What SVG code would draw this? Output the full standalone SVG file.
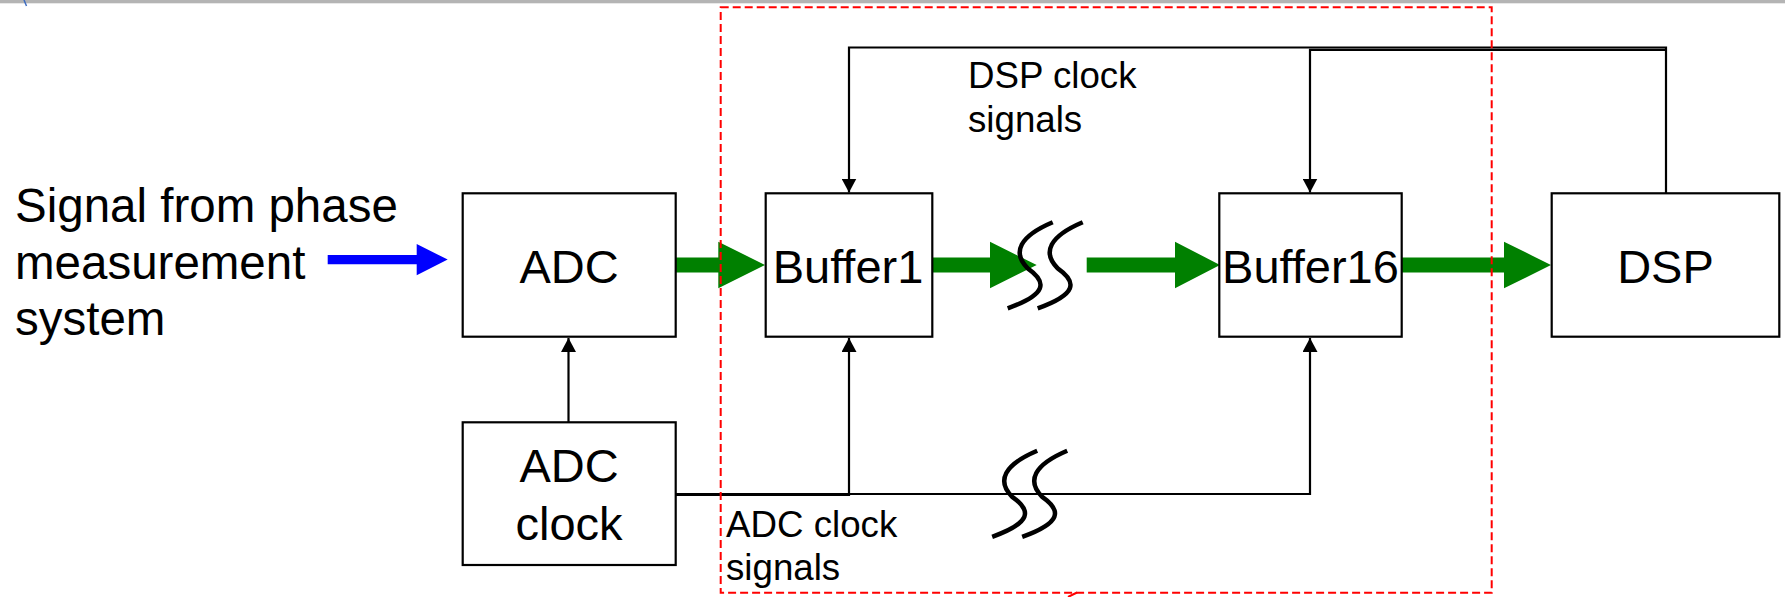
<svg xmlns="http://www.w3.org/2000/svg" width="1785" height="597" viewBox="0 0 1785 597">
  <style>
    .box { fill: #ffffff; stroke: #000000; stroke-width: 2.2; }
    .lbl { font-family: "Liberation Sans", Arial, sans-serif; fill: #000000; }
    .big { font-size: 47px; text-anchor: middle; }
    .sig { font-size: 47.5px; }
    .small { font-size: 36.7px; }
    .wire { fill: none; stroke: #000000; stroke-width: 2.2; }
    .green { fill: #008000; stroke: none; }
    .blue { fill: #0000ff; stroke: none; }
    .brk { fill: none; stroke: #000000; stroke-width: 4.5; }
    .region { fill: none; stroke: #ff0000; stroke-width: 2; stroke-dasharray: 8 4; }
  </style>
  <defs>
    <marker id="ah" viewBox="0 0 14 15" refX="14" refY="7.5" markerWidth="14" markerHeight="15" orient="auto" markerUnits="userSpaceOnUse">
      <path d="M0,0 L14,7.5 L0,15 Z" fill="#000000"/>
    </marker>
    <path id="squig" d="M0,0 C-33,14 -41,30 -25,46 C-5,60 -6,72 -45,86"/>
  </defs>
  <rect width="1785" height="597" fill="#ffffff"/>
  <rect x="0" y="0" width="1785" height="3.3" fill="#b4b4b4"/>
  <path d="M24,0 L26.5,6" stroke="#3d6cc0" stroke-width="1.5" fill="none"/>

  <g id="connectors">
    <!-- input signal -->
    <path class="blue" d="M327.7,255 H416.7 V244 L447.7,259.6 L416.7,275.2 V264.3 H327.7 Z"/>
    <!-- data path green arrows -->
    <path class="green" d="M676,257.5 H718.3 V241.7 L765,265 L718.3,288.3 V272.5 H676 Z"/>
    <path class="green" d="M932.3,257.5 H990 V241.7 L1036.7,265 L990,288.3 V272.5 H932.3 Z"/>
    <path class="green" d="M1086.7,257.5 H1175 V241.7 L1220,265 L1175,288.3 V272.5 H1086.7 Z"/>
    <path class="green" d="M1401.7,257.5 H1504 V241.7 L1551,265 L1504,288.3 V272.5 H1401.7 Z"/>
    <!-- break marks on data path -->
    <g class="brk">
      <use href="#squig" transform="translate(1052.7,222.3)"/>
      <use href="#squig" transform="translate(1082.7,222.3)"/>
    </g>
    <!-- DSP clock signals -->
    <path class="wire" d="M1666,193 V47.5 H849 V192.5" marker-end="url(#ah)"/>
    <path class="wire" d="M1666,49.8 H1310 V192.5" marker-end="url(#ah)"/>
    <!-- ADC clock signals -->
    <path class="wire" d="M568.5,422 V338" marker-end="url(#ah)"/>
    <path class="wire" d="M675,494 H1310 V338" marker-end="url(#ah)"/>
    <path class="wire" d="M675,495 H849 V338" marker-end="url(#ah)"/>
    <g class="brk">
      <use href="#squig" transform="translate(1037.2,450.8)"/>
      <use href="#squig" transform="translate(1067.2,450.8)"/>
    </g>
  </g>

  <g id="signal-source">
    <text class="lbl sig" x="15" y="222">Signal from phase</text>
    <text class="lbl sig" x="15" y="278.5">measurement</text>
    <text class="lbl sig" x="15" y="335">system</text>
  </g>

  <g id="adc">
    <rect class="box" x="462.7" y="193.3" width="213" height="143.4"/>
    <text class="lbl big" x="569" y="283.3">ADC</text>
  </g>

  <g id="adc-clock">
    <rect class="box" x="462.7" y="422.3" width="213" height="142.7"/>
    <text class="lbl big" x="569" y="482.3">ADC</text>
    <text class="lbl big" x="569" y="540">clock</text>
  </g>

  <g id="buffer1">
    <rect class="box" x="765.7" y="193.3" width="166.6" height="143.4"/>
    <text class="lbl big" x="848" y="283.3">Buffer1</text>
  </g>

  <g id="buffer16">
    <rect class="box" x="1219.3" y="193.3" width="182.4" height="143.4"/>
    <text class="lbl big" x="1310.5" y="283.3">Buffer16</text>
  </g>

  <g id="dsp">
    <rect class="box" x="1551.7" y="193.3" width="227.6" height="143.4"/>
    <text class="lbl big" x="1665.5" y="283.3">DSP</text>
  </g>

  <g id="dsp-clock-label">
    <text class="lbl small" x="968" y="88.3">DSP clock</text>
    <text class="lbl small" x="968" y="131.7">signals</text>
  </g>

  <g id="adc-clock-label">
    <text class="lbl small" x="726" y="537.3">ADC clock</text>
    <text class="lbl small" x="726" y="580">signals</text>
  </g>

  <g id="buffer-region">
    <rect class="region" x="720.7" y="7.3" width="771" height="585.4"/>
    <path d="M1068,597 L1077,592.5" stroke="#ff0000" stroke-width="2" fill="none"/>
  </g>
</svg>
